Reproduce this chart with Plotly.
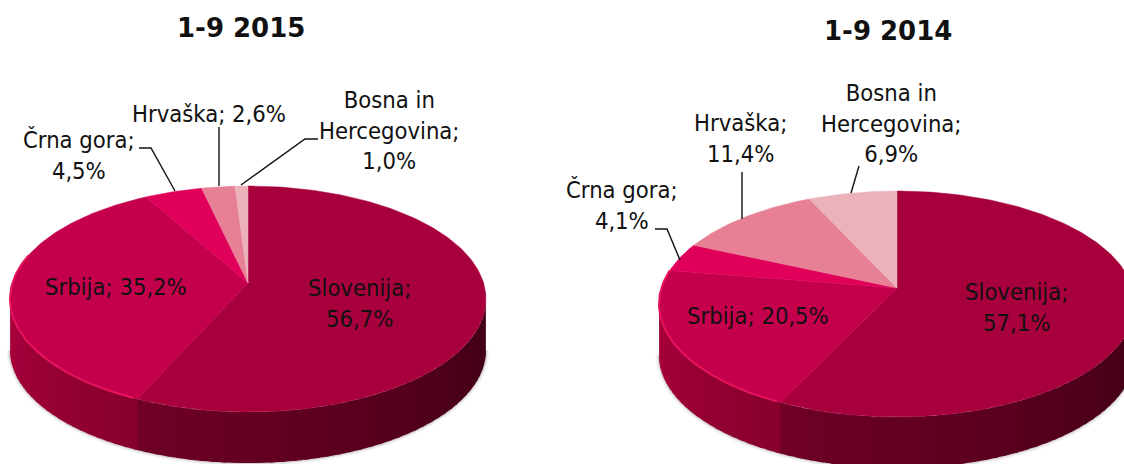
import math
import plotly.graph_objects as go

countries = ["Slovenija", "Srbija", "Črna gora", "Hrvaška", "Bosna in Hercegovina"]
values_2015 = [56.7, 35.2, 4.5, 2.6, 1.0]
values_2014 = [57.1, 20.5, 4.1, 11.4, 6.9]
titles = ["1-9 2015", "1-9 2014"]

top_colors = ["#A8003C", "#C4004C", "#E0005A", "#E88095", "#EBB2BB"]
# side gradient colours (near clockwise start, near clockwise end)
side_colors = {0: ((62, 0, 20), (112, 0, 38)), 1: ((135, 0, 45), (172, 0, 62))}

P = 0.1416
RX, BY = 235.6, 110.7
DEPTH = 51


def project(cx, cy, theta):
    u, v = math.sin(theta), -math.cos(theta)
    w = 1 - P * v
    return cx + RX * u / w, cy + BY * v / w


def arc(cx, cy, a, b, step=1.0):
    n = max(2, int(abs(b - a) / step) + 1)
    pts = [project(cx, cy, math.radians(a + (b - a) * i / (n - 1))) for i in range(n)]
    return [p[0] for p in pts], [p[1] for p in pts]


def mix(c1, c2, t):
    return "rgb(%d,%d,%d)" % tuple(round(c1[i] + (c2[i] - c1[i]) * t) for i in range(3))


def draw_pie(fig, values, cx, cy):
    edges = [0]
    for v in values:
        edges.append(edges[-1] + v * 3.6)
    front_a, front_b = 98.2, 261.8

    # soft shadow around the wall
    xs, ys = arc(cx, cy + DEPTH, front_a, front_b)
    for width, alpha in ((7, 0.05), (4, 0.08), (2, 0.12)):
        fig.add_trace(go.Scatter(x=xs, y=ys, mode="lines", line=dict(color=f"rgba(60,40,50,{alpha})", width=width)))

    # wall
    for idx in (0, 1):
        a = max(edges[idx], front_a)
        b = min(edges[idx + 1], front_b)
        if b <= a:
            continue
        n = int((b - a) / 2.5) + 1
        c1, c2 = side_colors[idx]
        for i in range(n):
            t0 = a + (b - a) * i / n
            t1 = a + (b - a) * (i + 1) / n + 1.0
            if idx == 1:
                t1 = min(t1, b)
            tx, ty = arc(cx, cy, t0, t1, 0.5)
            bx = list(tx[::-1])
            by = [y + DEPTH for y in ty[::-1]]
            color = mix(c1, c2, (i + 0.5) / n)
            fig.add_trace(go.Scatter(x=list(tx) + bx, y=list(ty) + by, mode="none", fill="toself",
                                     fillcolor=color))

    # top surface
    for i in range(len(values)):
        x, y = arc(cx, cy, edges[i], edges[i + 1])
        fig.add_trace(go.Scatter(x=[cx] + x + [cx], y=[cy] + y + [cy], mode="lines", fill="toself",
                                 fillcolor=top_colors[i], line=dict(color=top_colors[i], width=0.5)))

    # rim highlight
    x, y = arc(cx, cy, edges[1] + 1, min(edges[2], 285))
    fig.add_trace(go.Scatter(x=x, y=y, mode="lines", line=dict(color="#E8145C", width=2)))


def leader(fig, xs, ys):
    fig.add_trace(go.Scatter(x=xs, y=ys, mode="lines", line=dict(color="#111111", width=1.4)))


fig = go.Figure()
CX1, CY1 = 248, 283
CX2, CY2 = 897, 288
draw_pie(fig, values_2015, CX1, CY1)
draw_pie(fig, values_2014, CX2, CY2)

leader(fig, [139, 151, 175], [148, 148, 191])
leader(fig, [219, 219], [127, 186])
leader(fig, [318, 305, 241], [139, 139, 185])
leader(fig, [655, 667, 680], [229, 229, 260])
leader(fig, [742, 742], [172, 219])
leader(fig, [859, 851], [166, 193])


def pct(v):
    return f"{v:.1f}".replace(".", ",") + "%"


labels = [
    (values_2015, 0, "{n};<br>{p}", 359, 303),
    (values_2015, 1, "{n}; {p}", 116, 287),
    (values_2015, 2, "{n};<br>{p}", 79, 155),
    (values_2015, 3, "{n}; {p}", 209, 114),
    (values_2015, 4, None, 389, 130),
    (values_2014, 0, "{n};<br>{p}", 1016, 307),
    (values_2014, 1, "{n}; {p}", 758, 316),
    (values_2014, 2, "{n};<br>{p}", 622, 205),
    (values_2014, 3, "{n};<br>{p}", 740, 138),
    (values_2014, 4, None, 891, 123),
]
for vals, i, fmt, x, y in labels:
    if fmt is None:
        first, second = countries[i].split(" in ")
        text = f"{first} in<br>{second};<br>{pct(vals[i])}"
    else:
        text = fmt.format(n=countries[i], p=pct(vals[i]))
    fig.add_annotation(x=x, y=y, text=text, showarrow=False, xref="x", yref="y",
                       font=dict(family="DejaVu Sans Condensed, DejaVu Sans", size=23.6, color="#111111"), align="center")

fig.add_annotation(x=241, y=28, text=f"<b>{titles[0]}</b>", showarrow=False, xref="x", yref="y",
                   font=dict(family="DejaVu Sans", size=26, color="#111111"))
fig.add_annotation(x=888, y=31, text=f"<b>{titles[1]}</b>", showarrow=False, xref="x", yref="y",
                   font=dict(family="DejaVu Sans", size=26, color="#111111"))

fig.update_layout(width=1124, height=464, margin=dict(l=0, r=0, t=0, b=0), showlegend=False,
                  paper_bgcolor="white", plot_bgcolor="white", hovermode=False,
                  xaxis=dict(range=[0, 1124], visible=False, fixedrange=True),
                  yaxis=dict(range=[464, 0], visible=False, fixedrange=True))
fig.write_html("out.html", config={"displayModeBar": False},
               post_script="document.body.style.margin='0';document.body.style.overflow='hidden';")
